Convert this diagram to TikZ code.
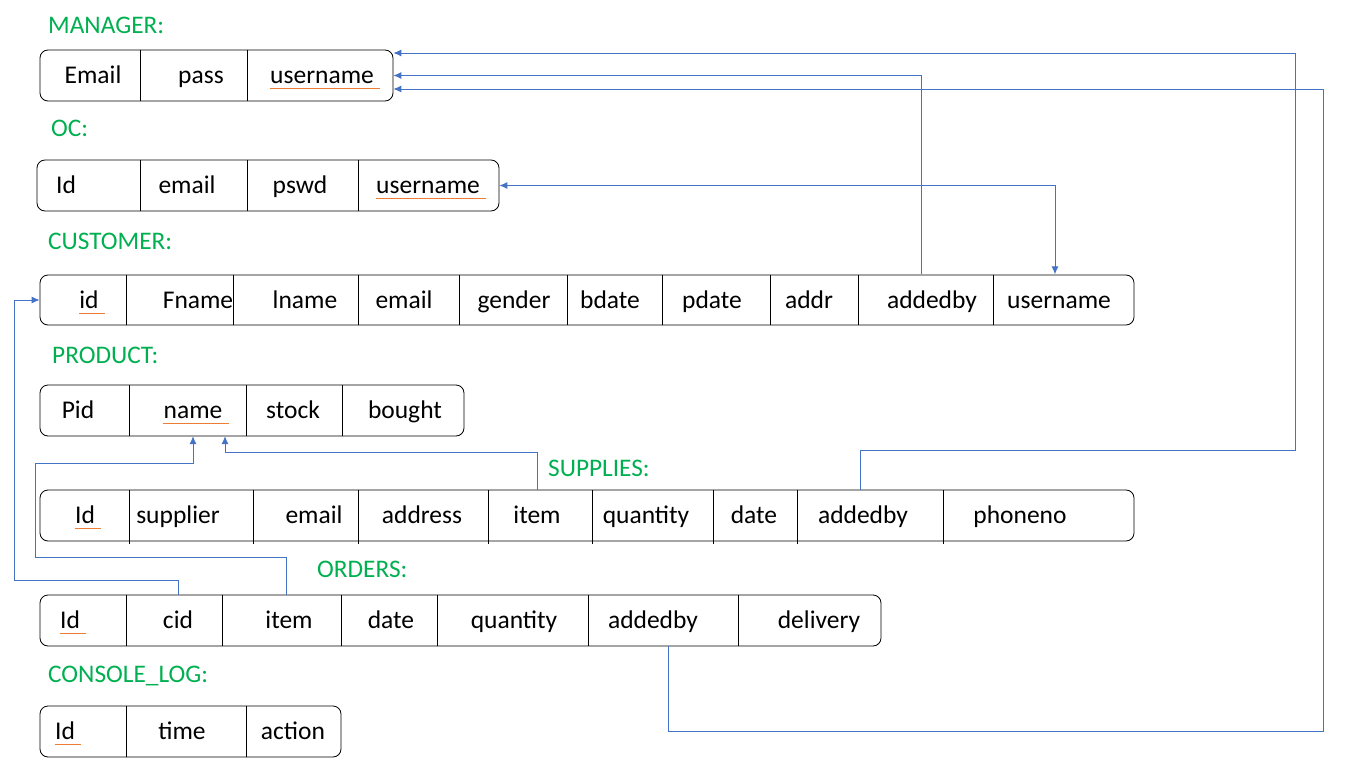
\documentclass[tikz,border=0pt]{standalone}
\usepackage{fontspec}
\setmainfont{Carlito}
\usetikzlibrary{arrows.meta}
\definecolor{tgreen}{HTML}{00B050}
\definecolor{lblue}{HTML}{4472C4}
\definecolor{korange}{HTML}{ED7D31}

\begin{document}
\begin{tikzpicture}[x=1pt,y=-1pt]
    \tikzset{%
      table/.style={draw, line width=0.8pt, rounded corners=8pt, inner sep=0pt,
        minimum height=51pt},
      field/.style={inner sep=0pt, minimum height=51pt, text height=19pt,
        text depth=3pt, font=\fontsize{25.5}{30}\selectfont},
      title/.style={anchor=west, inner sep=0pt, text=tgreen,
        font=\fontsize{25.3}{30}\selectfont},
      rel/.style={draw=lblue, line width=0.9pt,
        -{Latex[length=8pt,width=7pt]}},
      keyline/.style={korange, line width=1pt},
    }
    \useasboundingbox (0,0) rectangle (1366,768);

    % MANAGER
    \node[title] (tman) at (48,25) {MANAGER:};
    \node[table, minimum width=353pt] (man) at (216.5,75.5) {};
    \foreach \x in {140,247} \draw[line width=0.8pt] (\x,50) -- (\x,101);
    \node[field] (Memail) at (93,75.5) {Email};
    \node[field] (Mpass) at (201,75.5) {pass};
    \node[field] (Muser) at (322,75.5) {username};

    % OC
    \node[title] (toc) at (51,128) {OC:};
    \node[table, minimum width=462pt] (oc) at (268,185.5) {};
    \foreach \x in {140,247,358} \draw[line width=0.8pt] (\x,160) -- (\x,211);
    \node[field] (Oid) at (66,185.5) {Id};
    \node[field] (Oemail) at (187,185.5) {email};
    \node[field] (Opswd) at (300,185.5) {pswd};
    \node[field] (Ouser) at (428,185.5) {username};

    % CUSTOMER
    \node[title] (tcus) at (48,241) {CUSTOMER:};
    \node[table, minimum width=1094pt, minimum height=50pt] (cus) at (587,300) {};
    \foreach \x in {126,233,358,459,567,662,770,858,993} \draw[line width=0.8pt] (\x,275) -- (\x,325);
    \node[field] (Cid) at (89,300) {id};
    \node[field] (Cfname) at (198,300) {Fname};
    \node[field] (Clname) at (305,300) {lname};
    \node[field] (Cemail) at (404,300) {email};
    \node[field] (Cgender) at (514,300) {gender};
    \node[field] (Cbdate) at (610,300) {bdate};
    \node[field] (Cpdate) at (712,300) {pdate};
    \node[field] (Caddr) at (809,300) {addr};
    \node[field] (Cadded) at (932,300) {addedby};
    \node[field] (Cuser) at (1059,300) {username};

    % PRODUCT
    \node[title] (tpro) at (52,355) {PRODUCT:};
    \node[table, minimum width=424pt] (pro) at (252,410.5) {};
    \foreach \x in {129,246,342} \draw[line width=0.8pt] (\x,385) -- (\x,436);
    \node[field] (Ppid) at (78,410.5) {Pid};
    \node[field] (Pname) at (193,410.5) {name};
    \node[field] (Pstock) at (293,410.5) {stock};
    \node[field] (Pbought) at (405,410.5) {bought};

    % SUPPLIES
    \node[title] (tsup) at (548,468) {SUPPLIES:};
    \node[table, minimum width=1094pt] (sup) at (587,515.5) {};
    \foreach \x in {129,253,358,488,592,713,797,943} \draw[line width=0.8pt] (\x,490) -- (\x,544);
    \node[field] (Sid) at (85,515.5) {Id};
    \node[field] (Ssupp) at (178,515.5) {supplier};
    \node[field] (Semail) at (314,515.5) {email};
    \node[field] (Saddress) at (422,515.5) {address};
    \node[field] (Sitem) at (537,515.5) {item};
    \node[field] (Squant) at (646,515.5) {quantity};
    \node[field] (Sdate) at (754,515.5) {date};
    \node[field] (Sadded) at (863,515.5) {addedby};
    \node[field] (Sphone) at (1020,515.5) {phoneno};

    % ORDERS
    \node[title] (tord) at (317,569) {ORDERS:};
    \node[table, minimum width=841pt] (ord) at (460.5,620.5) {};
    \foreach \x in {126,222,341,437,588,738} \draw[line width=0.8pt] (\x,595) -- (\x,646);
    \node[field] (Rid) at (70,620.5) {Id};
    \node[field] (Rcid) at (178,620.5) {cid};
    \node[field] (Ritem) at (289,620.5) {item};
    \node[field] (Rdate) at (391,620.5) {date};
    \node[field] (Rquant) at (514,620.5) {quantity};
    \node[field] (Radded) at (653,620.5) {addedby};
    \node[field] (Rdeliv) at (819,620.5) {delivery};

    % CONSOLE_LOG
    \node[title] (tlog) at (48,676) {CONSOLE\_LOG:};
    \node[table, minimum width=301pt] (log) at (190.5,731.5) {};
    \foreach \x in {126,246} \draw[line width=0.8pt] (\x,706) -- (\x,757);
    \node[field] (Lid) at (65,731.5) {Id};
    \node[field] (Ltime) at (182,731.5) {time};
    \node[field] (Laction) at (293,731.5) {action};

    % key underlines
    \foreach \k in {Muser,Ouser,Cid,Pname,Sid,Rid,Lid}
      \draw[keyline] ([yshift=-5pt]\k.base west) -- ([xshift=6pt,yshift=-5pt]\k.base east);

    % relations
    \coordinate (R1) at (1295,450);
    \coordinate (R2) at (1323,731);
    \coordinate (L1) at (14,580);
    \coordinate (L2) at (35,557);
    \draw[rel] ([xshift=-11pt]Cadded.north) |- (man.east);
    \draw[rel] ([xshift=-3pt]Sadded.north) |- (R1) |- ([yshift=22.5pt]man.east);
    \draw[rel] ([xshift=15pt]Radded.south) |- (R2) |- ([yshift=-13.5pt]man.east);
    \draw[rel, {Latex[length=8pt,width=7pt]}-{Latex[length=8pt,width=7pt]}]
      (oc.east) -| ([xshift=-4pt]Cuser.north);
    \draw[rel] (Rcid.north) |- (L1) |- (cus.west);
    \draw[rel] ([xshift=-3pt]Ritem.north) |- (L2) |- ([yshift=-27pt]Pname.south) -- (Pname.south);
    \draw[rel] (Sitem.north) |- ([xshift=32pt,yshift=-16pt]Pname.south) -- ([xshift=32pt]Pname.south);
  \end{tikzpicture}
\end{document}
